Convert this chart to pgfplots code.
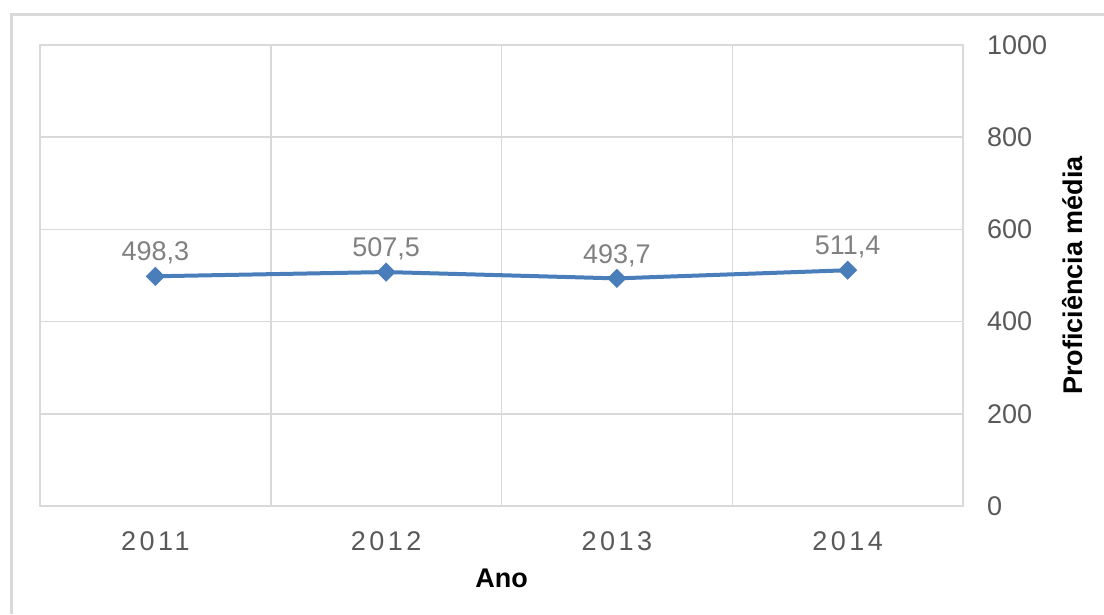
\documentclass[border=0pt]{standalone}
\usepackage{pgfplots}
\pgfplotsset{compat=1.18}
\usepackage{fontspec}
\setmainfont{Liberation Sans}
\newfontfamily\spaced[LetterSpace=13]{Liberation Sans}
\definecolor{gridc}{RGB}{217,217,217}
\definecolor{ticktxt}{RGB}{89,89,89}
\definecolor{lbltxt}{RGB}{128,128,128}
\definecolor{serie}{RGB}{74,126,187}
\begin{document}
\begin{tikzpicture}[x=1pt,y=1pt]
\useasboundingbox (0,0) rectangle (1104,614);
\draw[gridc, line width=3pt] (11,0) -- (11,599) -- (1104,599);
\begin{axis}[
  at={(40pt,108pt)}, anchor=south west,
  scale only axis, width=923pt, height=461pt,
  xmin=-0.5, xmax=3.5, ymin=0, ymax=1000,
  xtick={0,1,2,3}, xticklabels={2011,2012,2013,2014},
  minor xtick={-0.5,0.5,1.5,2.5,3.5},
  ytick={0,200,400,600,800,1000},
  ymajorgrids, xminorgrids,
  major grid style={gridc, line width=1.5pt},
  minor grid style={gridc, line width=1.5pt},
  axis line style={gridc, line width=1.5pt},
  tick style={draw=none}, minor tick style={draw=none},
  yticklabel pos=right,
  /pgf/number format/assume math mode=true,
  /pgf/number format/1000 sep={},
  yticklabel style={anchor=west, inner sep=0pt, xshift=24pt, font=\fontsize{27}{31}\selectfont, text=ticktxt},
  xticklabel style={anchor=north, inner sep=0pt, yshift=-25pt, font=\fontsize{27}{31}\selectfont\spaced, text=ticktxt},
  every axis x label/.style={at={(axis description cs:0.5,0)}, anchor=center, yshift=-72pt, font=\fontsize{27}{31}\selectfont\bfseries},
  every axis y label/.style={at={(axis description cs:1.119,0.5)}, anchor=center, rotate=90, font=\fontsize{27}{31}\selectfont\bfseries},
  xlabel={Ano}, ylabel={Proficiência média},
  nodes near coords,
  nodes near coords style={anchor=center, yshift=23pt, font=\fontsize{27}{31}\selectfont, text=lbltxt,
    /pgf/number format/.cd, fixed, fixed zerofill, precision=1, use comma, assume math mode=true},
  clip=false,
]
\addplot[serie, line width=4pt, mark=square*, mark size=4.8pt, mark options={rotate=45, solid}] coordinates {
  (0,498.3) (1,507.5) (2,493.7) (3,511.4)
};
\end{axis}
\end{tikzpicture}
\end{document}
